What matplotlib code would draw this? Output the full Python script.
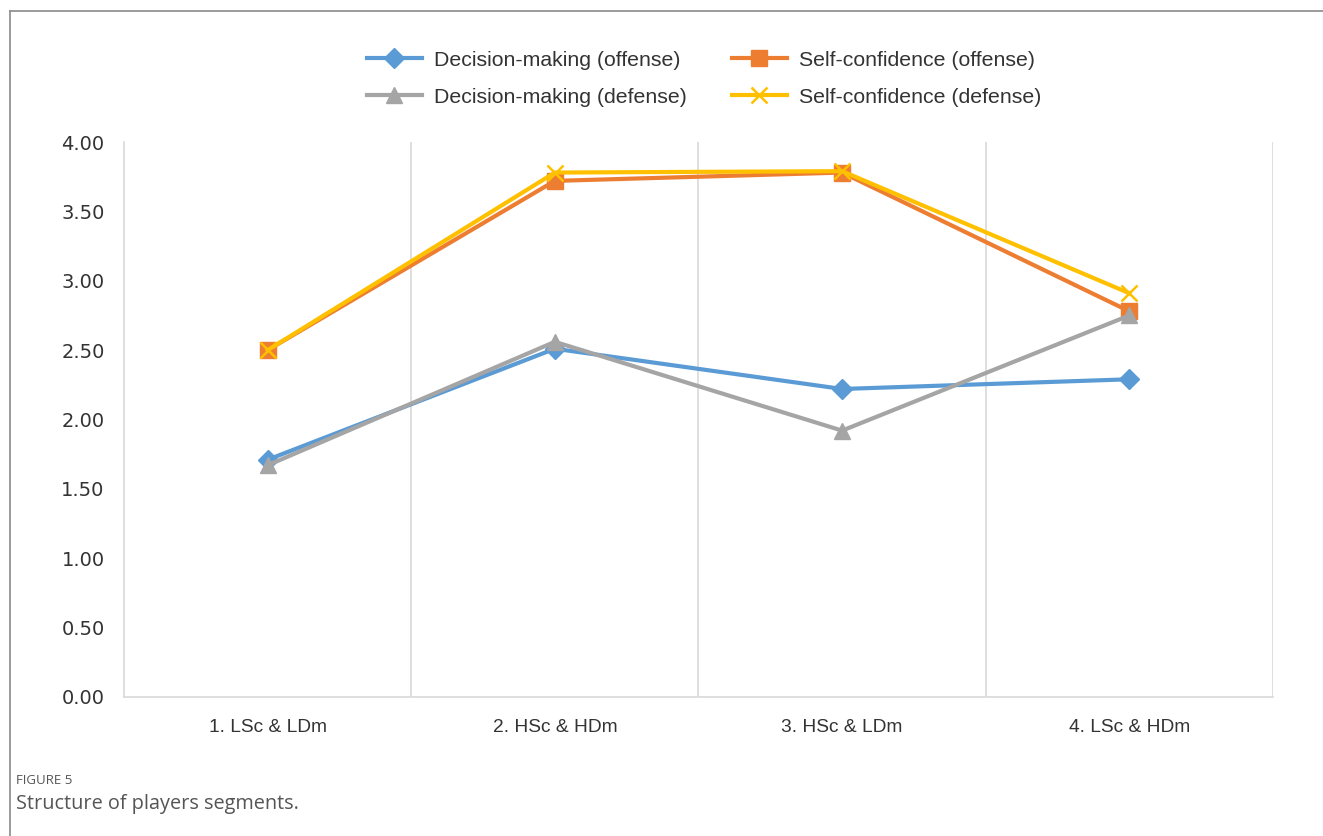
import matplotlib
matplotlib.use("Agg")
from matplotlib import pyplot as plt
from matplotlib.lines import Line2D
import numpy as np

# segment labels on the x axis
segments = ["1. LSc & LDm", "2. HSc & HDm", "3. HSc & LDm", "4. LSc & HDm"]

# series values
decision_offense = [1.71, 2.51, 2.22, 2.29]
self_conf_offense = [2.50, 3.72, 3.78, 2.78]
decision_defense = [1.67, 2.56, 1.92, 2.75]
self_conf_defense = [2.50, 3.78, 3.79, 2.91]

y_ticks = [0.0, 0.5, 1.0, 1.5, 2.0, 2.5, 3.0, 3.5, 4.0]

plt.rcParams['font.family'] = ['Liberation Sans', 'DejaVu Sans']

fig = plt.figure(figsize=(13.23, 8.36), dpi=100)
ax = fig.add_axes([0.0937, 0.1663, 0.8685, 0.6638])

x = np.arange(len(segments))
lw = 3.0
ax.plot(x, decision_offense, color="#5B9BD5", lw=lw, marker="D", ms=10,
        label="Decision-making (offense)", zorder=3)
ax.plot(x, self_conf_offense, color="#ED7D31", lw=lw, marker="s", ms=11,
        label="Self-confidence (offense)", zorder=3)
ax.plot(x, decision_defense, color="#A5A5A5", lw=lw, marker="^", ms=12,
        label="Decision-making (defense)", zorder=3)
ax.plot(x, self_conf_defense, color="#FFC000", lw=lw, marker="x", ms=12, mew=1.8,
        label="Self-confidence (defense)", zorder=3)

ax.set_xlim(-0.5, len(segments) - 0.5)
ax.set_ylim(0, 4.0)
ax.set_xticks(x)
ax.set_xticklabels(segments, fontsize=13.8, color="#333333")
ax.set_yticks(y_ticks)
ax.set_yticklabels([f"{v:.2f}" for v in y_ticks], fontsize=14, color="#333333",
                   family="DejaVu Sans")
ax.tick_params(axis="x", length=0, pad=16)
ax.tick_params(axis="y", length=0, pad=14)

# vertical separators between categories
ax.set_xticks(np.arange(0.5, len(segments), 1.0), minor=True)
ax.grid(True, which="minor", axis="x", color="#D9D9D9", lw=1.2)
ax.tick_params(which="minor", length=0)
for side in ["top", "right"]:
    ax.spines[side].set_visible(False)
ax.spines["left"].set_color("#D9D9D9")
ax.spines["left"].set_linewidth(1.2)
ax.spines["bottom"].set_color("#D9D9D9")
ax.spines["bottom"].set_linewidth(1.2)

handles, labels = ax.get_legend_handles_labels()
order = [0, 2, 1, 3]
fig.legend([handles[i] for i in order], [labels[i] for i in order],
           loc="center", bbox_to_anchor=(0.532, 0.906), ncol=2, frameon=False,
           fontsize=15.3, handlelength=2.6, columnspacing=2.13, labelcolor="#333333",
           handletextpad=0.55, labelspacing=0.85)

# outer frame (top and left edges)
fig.add_artist(Line2D([10 / 1323, 10 / 1323], [0, 1 - 11 / 836], color="#8A8A8A", lw=1.2))
fig.add_artist(Line2D([10 / 1323, 1], [1 - 11 / 836, 1 - 11 / 836], color="#8A8A8A", lw=1.2))

fig.text(16 / 1323, 1 - 781 / 836, "FIGURE 5", fontsize=9.5, color="#555555",
         va="center", family="Open Sans")
fig.text(16 / 1323, 1 - 804 / 836, "Structure of players segments.", fontsize=14.3,
         color="#555555", va="center", family="Open Sans")

fig.savefig("out.png", dpi=100)
